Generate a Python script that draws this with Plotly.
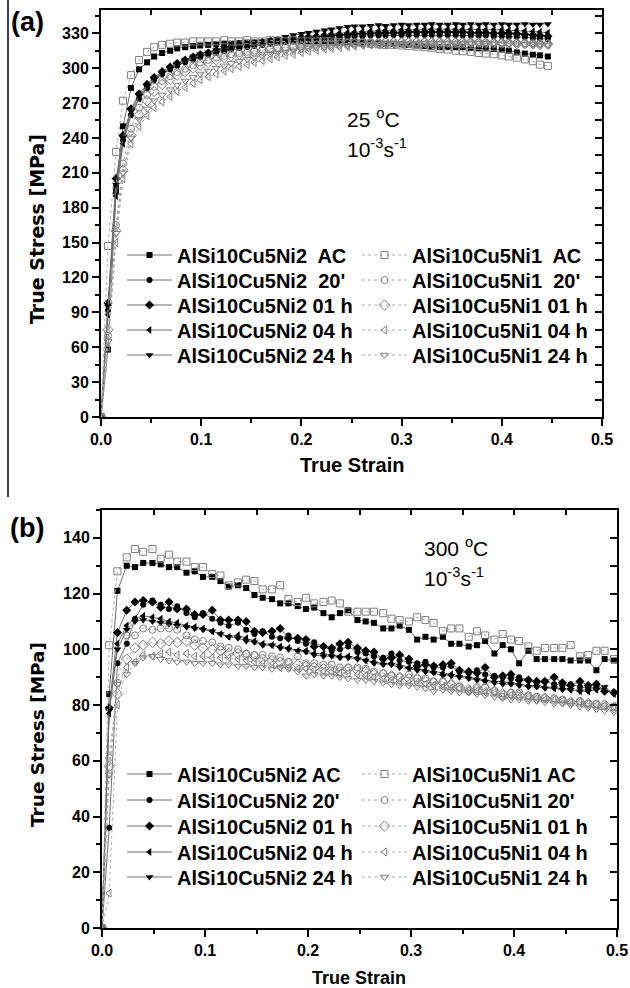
import plotly.graph_objects as go

# ---------------- data : panel (a) 25 C ----------------
strain_a = [0, .007, .015, .022, .030, .038, .046, .053, .061, .069,
            .076, .084, .092, .099, .107, .115, .123, .130, .138, .146,
            .153, .161, .169, .176, .184, .192, .200, .207, .215, .223,
            .230, .238, .246, .253, .261, .269, .277, .284, .292, .300,
            .307, .315, .323, .330, .338, .346, .354, .361, .369, .377,
            .384, .392, .400, .407, .415, .423, .431, .438, .446]

a_ni2_ac = [0, 58, 194, 250, 283, 299, 305, 310, 313, 315,
            317, 318, 319, 319.5, 320, 320.5, 321, 321, 321.5, 322,
            322, 322, 322.5, 322.5, 323, 323, 323, 323, 323, 323,
            323, 323, 322.5, 322.5, 322, 322, 321.5, 321, 321, 320.5,
            320, 319.5, 319, 318.5, 318, 318, 318, 318, 317.5, 317,
            317, 316.5, 316, 315, 313.5, 312.5, 311.5, 311, 310]
a_ni2_20 = [0, 92, 198, 238, 260, 274, 283, 290, 295, 299,
            302, 305, 307.5, 309.5, 311.5, 313, 314.5, 316, 317, 318,
            319, 320, 321, 322, 322.5, 323.5, 324, 324.5, 325, 325.5,
            326, 326.5, 327, 327.5, 327.5, 328, 328, 328, 328.5, 328.5,
            328.5, 328.5, 328.5, 328.5, 328.5, 328.5, 328.5, 328, 328, 328,
            328, 327.5, 327.5, 327, 327, 326.5, 326, 325.5, 325]
a_ni2_01 = [0, 98, 205, 242, 265, 278, 286, 292, 297, 301,
            304, 307, 309.5, 311.5, 313, 315, 316.5, 318, 319, 320,
            321, 322, 323, 323.5, 324.5, 325, 326, 326.5, 327, 327.5,
            328, 328.5, 329, 329.5, 329.5, 330, 330, 330.5, 330.5, 330.5,
            331, 331, 331, 331, 331, 331, 331, 331, 330.5, 330.5,
            330.5, 330, 330, 330, 329.5, 329, 328.5, 328, 327.5]
a_ni2_04 = [0, 88, 190, 235, 260, 274, 284, 290, 295, 299,
            303, 306, 309, 311, 313, 315, 316.5, 318, 319, 320,
            321, 322, 323, 324, 325, 326, 327, 327.5, 328, 329,
            329.5, 330, 330.5, 331, 331.5, 332, 332, 332.5, 332.5, 333,
            333, 333, 333.5, 333.5, 333.5, 333.5, 333.5, 333.5, 333.5, 333,
            333, 333, 333, 332.5, 332.5, 332, 331.5, 331, 330.5]
a_ni2_24 = [0, 95, 200, 240, 263, 276, 285, 291, 296, 300,
            304, 307, 310, 312, 313.5, 315.5, 317.5, 319, 320, 321,
            322, 323, 324, 325.5, 327, 328.5, 329.5, 330.5, 331.5, 332.5,
            333.5, 334.5, 335.5, 336, 336, 336.5, 337, 336.5, 337, 337.5,
            337, 337.5, 337.5, 338, 337.5, 337.5, 338, 337.5, 338, 337.5,
            338, 337.5, 338, 337.5, 337.5, 338, 337.5, 337.5, 338]
a_ni1_ac = [0, 147, 228, 272, 294, 307, 314, 318, 320, 321,
            322, 322, 323, 323, 323, 323, 324, 323, 323, 324,
            323, 323, 324, 323, 323, 324, 323, 323, 323, 323,
            323, 322.5, 322, 322, 321.5, 321, 320.5, 320, 320, 319.5,
            319, 318.5, 318, 317.5, 316.5, 316, 315, 314.5, 314, 313,
            312.5, 312, 311, 310, 309, 307.5, 306, 303, 302]
a_ni1_20 = [0, 70, 165, 218, 248, 266, 277, 284, 289, 293,
            296.5, 299.5, 302.5, 305, 307, 309, 310.5, 312, 313, 314,
            315, 316, 317, 317.5, 318, 318.5, 319, 319.5, 320, 320.5,
            321, 321, 321.5, 321.5, 322, 322, 322, 322.5, 322.5, 322.5,
            322.5, 322.5, 322.5, 322.5, 322.5, 322.5, 322.5, 322.5, 322, 322,
            322, 322, 322, 321.5, 321.5, 321.5, 321, 321, 321]
a_ni1_01 = [0, 75, 160, 212, 242, 260, 272, 280, 286, 290.5,
            294, 297, 300, 302.5, 305, 307, 309, 310.5, 312, 313,
            314, 315, 316, 317, 317.5, 318, 318.5, 319, 319.5, 320,
            320.5, 320.5, 321, 321, 321.5, 321.5, 321.5, 322, 322, 322,
            322, 322, 322, 322, 322, 322, 322, 322, 322, 322,
            321.5, 321.5, 321.5, 321.5, 321, 321, 321, 320.5, 320.5]
a_ni1_04 = [0, 60, 150, 205, 235, 250, 259, 266, 271, 275.5,
            280, 283.5, 287, 290, 292.5, 295, 297.5, 299.5, 301.5, 303,
            305, 306.5, 308, 309.5, 311, 312, 313.5, 314.5, 315.5, 316.5,
            317, 318, 318.5, 319, 319.5, 320, 320, 320.5, 320.5, 321,
            321, 321, 321, 321.5, 321.5, 321.5, 321.5, 321.5, 321.5, 321.5,
            321.5, 321.5, 321, 321, 321, 321, 320.5, 320.5, 320]
a_ni1_24 = [0, 65, 158, 210, 240, 256, 265, 272, 277, 281.5,
            285.5, 289, 292, 295, 297.5, 300, 302, 304, 306, 307.5,
            309, 310.5, 312, 313, 314, 315, 316, 317, 317.5, 318,
            318.5, 319, 319.5, 320, 320, 320.5, 320.5, 321, 321, 321,
            321, 321.5, 321.5, 321.5, 321.5, 321.5, 321.5, 321.5, 321.5, 321.5,
            321.5, 321, 321, 321, 321, 320.5, 320.5, 320, 320]

# ---------------- data : panel (b) 300 C ----------------
strain_b = [0, .007, .015, .024, .032, .040, .049, .057, .065, .073,
            .082, .090, .098, .107, .115, .123, .132, .140, .148, .156,
            .165, .173, .181, .190, .198, .206, .215, .223, .231, .239,
            .248, .256, .264, .273, .281, .289, .298, .306, .314, .322,
            .331, .339, .347, .356, .364, .372, .381, .389, .397, .405,
            .414, .422, .430, .439, .447, .455, .464, .472, .480, .488,
            .497]

b_ni2_ac = [0, 84, 121, 130, 129.5, 131, 131, 130.5, 129.5, 129.5,
            127.5, 128, 126, 126, 124.5, 122.5, 123, 122, 119.5, 118.5,
            118, 116.5, 116.5, 115.5, 114.5, 115, 113, 111.5, 113, 114,
            110.5, 110, 109.5, 107.5, 107.5, 108.5, 107, 103.5, 104.5, 103.5,
            104.5, 102, 102, 101, 101.5, 103, 98.5, 101.5, 100, 95,
            99.5, 96.5, 96.5, 96.5, 96.5, 96, 96, 96, 92.5, 96.5,
            96]
b_ni2_20 = [0, 36, 95, 102, 111, 116, 117.5, 116, 114.5, 115.5,
            113, 111.5, 113, 111, 109.5, 108.5, 109.5, 107, 105.5, 106.5,
            104.5, 104, 105, 103, 102, 102.5, 101, 99.5, 100, 101,
            99, 98.5, 97.5, 97, 98.5, 96, 95.5, 95, 95.5, 93.5,
            93.5, 94, 92, 91.5, 92.5, 91, 90.5, 90, 89.5, 90,
            89, 88, 88.5, 87.5, 87, 87.5, 86.5, 86, 86.5, 85.5,
            84.5]
b_ni2_01 = [0, 79, 106, 114, 117, 117.5, 117, 115, 117, 114.5,
            114.5, 112.5, 112.5, 114, 110.5, 110.5, 110.5, 110, 106.5, 106,
            106.5, 107.5, 104, 104, 103.5, 101, 101, 100.5, 102, 102.5,
            100.5, 99.5, 99, 96.5, 97, 98, 96.5, 94, 94.5, 94,
            94.5, 95, 92.5, 92, 91.5, 93.5, 90, 90.5, 91, 89,
            89, 88.5, 88.5, 90, 88, 87, 88.5, 87, 87.5, 85,
            84.5]
b_ni2_04 = [0, 77, 102, 108.5, 111, 112, 111.5, 111, 110, 109.5,
            108.5, 108, 107.5, 106.5, 105.5, 104.5, 105, 104, 103, 102,
            101.5, 101, 100.5, 99.5, 99.5, 98.5, 98.5, 98, 97.5, 97.5,
            97, 96, 95.5, 95, 95, 94.5, 93.5, 93, 92.5, 92,
            91.5, 91, 90.5, 90, 89.5, 89, 88.5, 88.5, 88, 87.5,
            87, 87, 86.5, 86, 86, 85.5, 85, 85, 85.5, 86,
            84]
b_ni2_24 = [0, 78, 100, 107, 110, 110.5, 110, 109.5, 109, 108.5,
            108, 107.5, 107, 106.5, 105.5, 104.5, 104, 103, 102.5, 101.5,
            101.5, 100.5, 100, 99.5, 99, 98, 97.5, 97.5, 97, 97,
            96.5, 96, 95, 94.5, 94.5, 93.5, 93, 92.5, 92, 91.5,
            90.5, 90.5, 90, 89.5, 89, 88.5, 88, 87.5, 87.5, 87,
            86.5, 86.5, 86, 86, 85.5, 85.5, 85, 85, 85.5, 86.5,
            84]
b_ni1_ac = [0, 101.5, 128, 133, 136, 135, 136, 132.5, 134, 131.5,
            131.5, 129.5, 129.5, 127, 126.5, 123, 124, 125, 124.5, 121.5,
            121.5, 123, 118, 117, 118.5, 116.5, 117, 117.5, 116.5, 113.5,
            113.5, 113.5, 113.5, 113, 111, 110.5, 110, 111.5, 110.5, 109.5,
            106.5, 107.5, 107.5, 104.5, 106.5, 105, 103.5, 105.5, 103.5, 103,
            101, 99.5, 100.5, 100.5, 100.5, 101.5, 97.5, 98, 99.5, 99.5,
            96.5]
b_ni1_20 = [0, 61, 88, 105, 105, 107.5, 107, 107.5, 107.5, 107,
            105, 103.5, 103, 102.5, 101, 100.5, 100, 98.5, 98, 98,
            97.5, 97, 95.5, 97.5, 95, 95, 94.5, 94.5, 93.5, 93.5,
            93.5, 93, 92, 91.5, 90.5, 90, 91, 89.5, 89.5, 88.5,
            88.5, 87.5, 86.5, 85, 86.5, 86.5, 85, 83, 84.5, 84.5,
            83.5, 83, 82.5, 82.5, 82, 81, 81.5, 80.5, 80.5, 79.5,
            79.5]
b_ni1_01 = [0, 58, 84, 96.5, 100.5, 101.5, 102.5, 102, 103, 102.5,
            103, 101.5, 100.5, 100, 99.5, 98.5, 98.5, 98, 97.5, 96.5,
            96, 95.5, 95, 94.5, 94, 93.5, 93, 92.5, 92, 93,
            92.5, 92, 91, 91, 90.5, 90, 89.5, 89.5, 88.5, 88,
            88, 87.5, 86.5, 85.5, 85.5, 86, 85, 84, 84, 83.5,
            83, 82.5, 82.5, 82, 81.5, 81, 81, 80.5, 80, 80,
            79]
b_ni1_04 = [0, 12.5, 80, 93.5, 95.5, 98, 97.5, 98.5, 99, 98,
            98.5, 97.5, 97.5, 97, 97, 97, 96.5, 96, 95.5, 95,
            94.5, 93.5, 93.5, 93, 93, 92.5, 92, 92, 91.5, 91.5,
            91, 90.5, 90, 89.5, 89, 88.5, 88, 88, 87.5, 87,
            86.5, 86, 86, 85.5, 85, 84.5, 84.5, 84, 83.5, 83,
            83, 82.5, 82, 82, 81.5, 81, 81, 80.5, 80, 80,
            79.5]
b_ni1_24 = [0, 55, 87.5, 91, 95, 97, 97.5, 96.5, 96, 95.5,
            95.5, 95, 95, 95, 94.5, 94.5, 94, 94, 93.5, 93.5,
            93, 93.5, 93, 92, 90.5, 91, 90.5, 90.5, 90, 89.5,
            89, 89, 88.5, 88, 87.5, 87, 87, 86.5, 86, 85,
            85.5, 85, 84.5, 84.5, 84, 83.5, 83, 82.5, 82, 82,
            81.5, 81.5, 81, 80.5, 80.5, 80, 79.5, 79, 78.5, 78,
            77.5]

labels_a_ni2 = ["AlSi10Cu5Ni2\u00a0 AC", "AlSi10Cu5Ni2\u00a0 20'", "AlSi10Cu5Ni2 01 h",
                "AlSi10Cu5Ni2 04 h", "AlSi10Cu5Ni2 24 h"]
labels_a_ni1 = ["AlSi10Cu5Ni1\u00a0 AC", "AlSi10Cu5Ni1\u00a0 20'", "AlSi10Cu5Ni1 01 h",
                "AlSi10Cu5Ni1 04 h", "AlSi10Cu5Ni1 24 h"]
labels_b_ni2 = ["AlSi10Cu5Ni2 AC", "AlSi10Cu5Ni2 20'", "AlSi10Cu5Ni2 01 h",
                "AlSi10Cu5Ni2 04 h", "AlSi10Cu5Ni2 24 h"]
labels_b_ni1 = ["AlSi10Cu5Ni1 AC", "AlSi10Cu5Ni1 20'", "AlSi10Cu5Ni1 01 h",
                "AlSi10Cu5Ni1 04 h", "AlSi10Cu5Ni1 24 h"]

# ---------------- styling ----------------
W, H = 630, 988
FONT = "Liberation Sans, Arial, sans-serif"
sym_filled = ["square", "circle", "diamond", "triangle-left", "triangle-down"]
sym_open = ["square-open", "circle-open", "diamond-open", "triangle-left-open", "triangle-down-open"]
size_filled = [6, 6, 7, 7, 7]
size_open = [7, 7, 8, 7, 7]

# legend row centres (pixels) and column x for each panel
rows_a = [255, 280, 305, 330, 355]
rows_b = [774, 800, 826, 852, 877]
col_x = [122, 357]


def px(x):
    return x / W


def py(y):
    return 1 - y / H


fig = go.Figure()
legend_layout = {}
legend_count = [0]
legfont = dict(family=FONT, size=20, color="black", weight="bold")


def new_legend(xpix, ycenter):
    legend_count[0] += 1
    n = legend_count[0]
    name = "legend" if n == 1 else "legend%d" % n
    legend_layout[name] = dict(x=px(xpix), y=py(ycenter - 19.5), xanchor="left",
                               yanchor="top", bgcolor="rgba(0,0,0,0)", borderwidth=0,
                               font=legfont, itemwidth=45, itemclick=False,
                               itemdoubleclick=False)
    return name


def add_group(xs, series, labels, filled, xa, ya, rows, colx):
    for i, (ys, lab) in enumerate(zip(series, labels)):
        if filled:
            marker = dict(symbol=sym_filled[i], size=size_filled[i], color="#000000",
                          line=dict(width=0))
            line = dict(color="#707070", width=1)
        else:
            marker = dict(symbol=sym_open[i], size=size_open[i], color="#808080",
                          line=dict(width=1, color="#808080"))
            line = dict(color="#aaaaaa", width=1, dash="dot")
        leg = new_legend(colx, rows[i])
        fig.add_trace(go.Scatter(x=xs, y=ys, mode="lines+markers", name=lab,
                                 marker=marker, line=line, xaxis=xa, yaxis=ya,
                                 legend=leg))


add_group(strain_a, [a_ni2_ac, a_ni2_20, a_ni2_01, a_ni2_04, a_ni2_24], labels_a_ni2,
          True, "x", "y", rows_a, col_x[0])
add_group(strain_a, [a_ni1_ac, a_ni1_20, a_ni1_01, a_ni1_04, a_ni1_24], labels_a_ni1,
          False, "x", "y", rows_a, col_x[1])
add_group(strain_b, [b_ni2_ac, b_ni2_20, b_ni2_01, b_ni2_04, b_ni2_24], labels_b_ni2,
          True, "x2", "y2", rows_b, col_x[0])
add_group(strain_b, [b_ni1_ac, b_ni1_20, b_ni1_01, b_ni1_04, b_ni1_24], labels_b_ni1,
          False, "x2", "y2", rows_b, col_x[1])

# dummy traces for mirror (inward) tick axes
fig.add_trace(go.Scatter(x=[None], y=[None], xaxis="x3", yaxis="y3", showlegend=False,
                         hoverinfo="skip"))
fig.add_trace(go.Scatter(x=[None], y=[None], xaxis="x4", yaxis="y4", showlegend=False,
                         hoverinfo="skip"))

tickfont = dict(family=FONT, size=16, color="black", weight="bold")
dom_ax = [px(101), px(602)]
dom_ay = [py(417), py(10)]
dom_bx = [px(102), px(617)]
dom_by = [py(928), py(510)]

common_x = dict(range=[0, 0.5], dtick=0.1, tick0=0, tickformat=".1f", ticks="outside",
                ticklen=7, tickwidth=1.5, tickcolor="black", showline=True,
                linecolor="black", linewidth=2, mirror=True, showgrid=False,
                zeroline=False, tickfont=tickfont, automargin=False,
                minor=dict(dtick=0.05, ticks="outside", ticklen=4, tickwidth=1.5,
                           tickcolor="black", showgrid=False))
common_y = dict(ticks="outside", ticklen=7, tickwidth=1.5, tickcolor="black",
                showline=True, linecolor="black", linewidth=2, mirror=True,
                showgrid=False, zeroline=False, tickfont=tickfont, automargin=False)

fig.update_layout(
    width=W, height=H, margin=dict(l=0, r=0, t=0, b=0),
    paper_bgcolor="white", plot_bgcolor="white",
    font=dict(family=FONT, color="black"),
    xaxis=dict(domain=dom_ax, anchor="y", **common_x),
    yaxis=dict(domain=dom_ay, anchor="x", range=[0, 350], dtick=30, tick0=0,
               minor=dict(dtick=15, ticks="outside", ticklen=4, tickwidth=1.5,
                          tickcolor="black", showgrid=False), **common_y),
    xaxis2=dict(domain=dom_bx, anchor="y2", **common_x),
    yaxis2=dict(domain=dom_by, anchor="x2", range=[0, 150], dtick=20, tick0=0,
                minor=dict(dtick=10, ticks="outside", ticklen=4, tickwidth=1.5,
                           tickcolor="black", showgrid=False), **common_y),
    xaxis3=dict(overlaying="x", side="top", anchor="y", range=[0, 0.5], dtick=0.05,
                ticks="inside", ticklen=5, tickwidth=1.5, tickcolor="black",
                showticklabels=False, showgrid=False, zeroline=False, showline=False),
    yaxis3=dict(overlaying="y", side="right", anchor="x", range=[0, 350], dtick=15,
                ticks="inside", ticklen=7, tickwidth=1.5, tickcolor="black",
                showticklabels=False, showgrid=False, zeroline=False, showline=False),
    xaxis4=dict(overlaying="x2", side="top", anchor="y2", range=[0, 0.5], dtick=0.05,
                ticks="inside", ticklen=5, tickwidth=1.5, tickcolor="black",
                showticklabels=False, showgrid=False, zeroline=False, showline=False),
    yaxis4=dict(overlaying="y2", side="right", anchor="x2", range=[0, 150], dtick=10,
                ticks="inside", ticklen=7, tickwidth=1.5, tickcolor="black",
                showticklabels=False, showgrid=False, zeroline=False, showline=False),
    showlegend=True,
)
fig.update_layout(**legend_layout)

annots = []


def ann(text, x, y, size, bold=False, angle=0, xanchor="center", family=FONT):
    annots.append(dict(text=text, x=px(x), y=py(y), xref="paper", yref="paper",
                       showarrow=False, textangle=angle, xanchor=xanchor,
                       yanchor="middle",
                       font=dict(family=family, size=size, color="black",
                                 weight="bold" if bold else "normal")))


ann("(a)", 27, 22, 27, bold=True)
ann("(b)", 27, 528, 27, bold=True)
ann("True Strain", 352, 465, 20, bold=True)
ann("True Strain", 359, 978, 18, bold=True)
ann("True Stress [MPa]", 37, 229, 19, bold=True, angle=-90, family="DejaVu Sans")
ann("True Stress [MPa]", 37, 735, 18.5, bold=True, angle=-90, family="DejaVu Sans")
ann("25 <sup>o</sup>C", 345, 118, 21, xanchor="left")
ann("10<sup>-3</sup>s<sup>-1</sup>", 345, 148, 21, xanchor="left")
ann("300 <sup>o</sup>C", 422, 547, 21, xanchor="left")
ann("10<sup>-3</sup>s<sup>-1</sup>", 422, 577, 21, xanchor="left")
fig.update_layout(annotations=annots)

fig.add_shape(type="line", xref="paper", yref="paper", x0=px(8), x1=px(8),
              y0=py(0), y1=py(497), line=dict(color="black", width=1.5))

fig.write_html("out.html")
